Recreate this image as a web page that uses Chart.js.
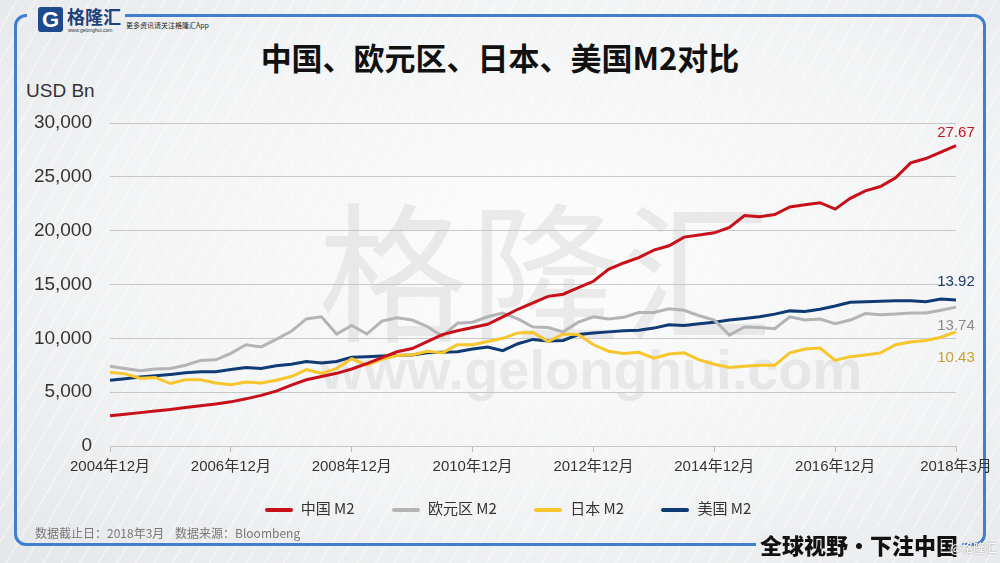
<!DOCTYPE html>
<html lang="zh">
<head>
<meta charset="UTF-8">
<title>中国、欧元区、日本、美国M2对比</title>
<script src="https://cdn.jsdelivr.net/npm/chart.js"></script>
<style>
  body { margin: 0; }
  .page {
    position: relative; width: 1000px; height: 563px; overflow: hidden;
    font-family: "Liberation Sans", Arial, "Noto Sans CJK SC", sans-serif;
    background:
      repeating-linear-gradient(120deg, rgba(255,255,255,0) 0 14px, rgba(255,255,255,0.35) 14px 16px),
      radial-gradient(ellipse at 55% 45%, #fcfcfc 0%, #f3f4f5 55%, #e4e6e9 100%);
  }
  .frame {
    position: absolute; left: 14px; top: 14px; width: 966px; height: 526px;
    border: 3px solid #3f7fcf; border-radius: 12px;
  }
  .patch { position: absolute; background: #eceef0; }
  .logo-box {
    position: absolute; left: 38px; top: 7px; width: 25px; height: 25px;
    background: #1d4a8c; border-radius: 3px; color: #fff;
    font: bold 22px/25px "Liberation Sans", Arial, sans-serif; text-align: center;
  }
  .logo-name {
    position: absolute; left: 67px; top: 5px; color: #1d3f7a;
    font: bold 18px/22px "Noto Sans CJK SC", sans-serif;
  }
  .logo-url { position: absolute; left: 68px; top: 27px; font: 5px/6px Arial, sans-serif; color: #333; }
  .logo-tip { position: absolute; left: 126px; top: 21px; font: 7px/9px "Noto Sans CJK SC", sans-serif; color: #222; }
  .title {
    position: absolute; left: 0; width: 1000px; top: 37px; text-align: center;
    font: bold 31px/40px "Noto Sans CJK SC", sans-serif; color: #111;
  }
  .unit { position: absolute; left: 26px; top: 80px; font-size: 19px; color: #333; }
  .wm1 {
    position: absolute; left: 318px; top: 170px; font: 150px/190px "Noto Sans CJK SC", sans-serif;
    color: rgba(120,120,120,0.13); letter-spacing: 2px;
  }
  .wm2 {
    position: absolute; left: 320px; top: 338px; font: bold 56px/64px "Liberation Sans", Arial, sans-serif;
    color: rgba(120,120,120,0.13);
  }
  canvas { position: absolute; left: 0; top: 0; }
  .legend {
    position: absolute; top: 497px; left: 8px; width: 1000px; text-align: center;
    font: 15px/22px "Noto Sans CJK SC", sans-serif; color: #333;
  }
  .legend span { margin: 0 17px; }
  .legend i { display: inline-block; width: 28px; height: 4px; border-radius: 2px; vertical-align: middle; margin-right: 8px; }
  .note { position: absolute; left: 35px; top: 525px; font: 12px/16px "Noto Sans CJK SC", sans-serif; color: #777; }
  .slogan {
    position: absolute; left: 756px; top: 530px; padding: 0 4px; background: #eceef0;
    font: 900 22px/28px "Noto Sans CJK SC", sans-serif; color: #111;
  }
  .at { position: absolute; left: 950px; top: 540px; font: 12px/16px "Noto Sans CJK SC", sans-serif; color: #fff; text-shadow: 0 0 2px #888; }
</style>
</head>
<body>
<div class="page">
  <div class="frame"></div>
  <div class="patch" style="left:27px;top:10px;width:98px;height:12px;"></div>
  <div class="logo-box">G</div>
  <div class="logo-name">格隆汇</div>
  <div class="logo-url">www.gelonghui.com</div>
  <div class="logo-tip">更多资讯请关注格隆汇App</div>
  <div class="title">中国、欧元区、日本、美国M2对比</div>
  <div class="unit">USD Bn</div>
  <div class="wm1">格隆汇</div>
  <div class="wm2">www.gelonghui.com</div>
  <canvas id="m2Chart" width="1000" height="563"></canvas>
  <div class="legend">
    <span><i style="background:#c8101a"></i>中国 M2</span>
    <span><i style="background:#b4b4b4"></i>欧元区 M2</span>
    <span><i style="background:#f7c52c"></i>日本 M2</span>
    <span><i style="background:#0f3a73"></i>美国 M2</span>
  </div>
  <div class="note">数据截止日：2018年3月&nbsp;&nbsp;&nbsp;&nbsp;数据来源：Bloombeng</div>
  <div class="slogan">全球视野・下注中国</div>
  <div class="at">@格隆汇</div>
</div>

<script>
  // 横轴刻度（每8个点一个）
  const tickLabels = ['2004年12月', '2006年12月', '2008年12月', '2010年12月',
    '2012年12月', '2014年12月', '2016年12月', '2018年3月'];

  const chinaM2 = [2800, 2950, 3100, 3250, 3400, 3570, 3730, 3900, 4100, 4380,
    4700, 5100, 5650, 6150, 6450, 6750, 7150, 7650, 8200, 8750,
    9050, 9700, 10350, 10700, 11000, 11300, 12000, 12700, 13300, 13900,
    14100, 14700, 15300, 16400, 17000, 17500, 18200, 18600, 19400, 19600,
    19800, 20300, 21400, 21300, 21500, 22200, 22400, 22600, 22000, 23000,
    23700, 24100, 24900, 26300, 26700, 27300, 27900];

  const euroM2 = [7400, 7200, 7000, 7150, 7200, 7500, 7950, 8000, 8600, 9400,
    9200, 9900, 10650, 11800, 12000, 10400, 11200, 10400, 11600, 11900,
    11700, 11100, 10200, 11400, 11500, 12000, 12350, 11800, 11050, 11000,
    10600, 11500, 12000, 11800, 11950, 12400, 12400, 12750, 12600, 12100,
    11700, 10300, 11050, 11000, 10900, 12000, 11700, 11800, 11350, 11700,
    12300, 12200, 12250, 12350, 12350, 12600, 12900];

  const japanM2 = [6850, 6700, 6300, 6350, 5800, 6150, 6150, 5850, 5700, 5950,
    5850, 6100, 6450, 7100, 6750, 7200, 8100, 7500, 8050, 8400,
    8450, 8800, 8650, 9400, 9400, 9700, 10000, 10500, 10550, 9700,
    10400, 10350, 9400, 8800, 8600, 8700, 8150, 8550, 8650, 8000,
    7600, 7300, 7400, 7500, 7500, 8650, 9000, 9100, 7950, 8300,
    8450, 8650, 9400, 9650, 9800, 10100, 10600];

  const usM2 = [6100, 6250, 6400, 6520, 6650, 6800, 6900, 6900, 7100, 7300,
    7200, 7450, 7600, 7850, 7700, 7850, 8250, 8300, 8350, 8400,
    8450, 8650, 8700, 8750, 9000, 9200, 8850, 9500, 9900, 9750,
    9800, 10350, 10500, 10600, 10700, 10750, 10950, 11250, 11200, 11350,
    11500, 11700, 11850, 12000, 12250, 12550, 12500, 12700, 13000, 13350,
    13400, 13450, 13500, 13500, 13400, 13650, 13550];

  const endLabels = ['27.67', '13.74', '10.43', '13.92'];

  var labels = [];
  for (var i = 0; i < chinaM2.length; i++) {
    labels.push(i % 8 === 0 ? tickLabels[i / 8] : '');
  }

  // 末端数值标注
  const endLabelPlugin = {
    id: 'endLabels',
    afterDatasetsDraw(chart) {
      const ctx = chart.ctx;
      const colors = ['#c0161c', '#8c8c8c', '#c9a232', '#1b3d6f'];
      const offsets = [-13, 19, 26, -18];
      ctx.save();
      ctx.font = '15px "Liberation Sans", Arial, sans-serif';
      ctx.textAlign = 'center';
      ctx.textBaseline = 'middle';
      chart.data.datasets.forEach(function (ds, d) {
        const pts = chart.getDatasetMeta(d).data;
        const p = pts[pts.length - 1];
        ctx.fillStyle = colors[d];
        ctx.fillText(endLabels[d], p.x, p.y + offsets[d]);
      });
      ctx.restore();
    }
  };

  const ctx = document.getElementById('m2Chart').getContext('2d');
  const m2Chart = new Chart(ctx, {
    type: 'line',
    data: {
      labels: labels,
      datasets: [
        { label: '中国 M2', data: chinaM2, borderColor: '#c8101a' },
        { label: '欧元区 M2', data: euroM2, borderColor: '#b4b4b4' },
        { label: '日本 M2', data: japanM2, borderColor: '#f7c52c' },
        { label: '美国 M2', data: usM2, borderColor: '#0f3a73' }
      ]
    },
    options: {
      responsive: false,
      animation: false,
      elements: {
        line: { borderWidth: 3, tension: 0 },
        point: { radius: 0 }
      },
      layout: { padding: { left: 30, top: 123, right: 44, bottom: 77 } },
      plugins: {
        legend: { display: false },
        tooltip: { enabled: false }
      },
      scales: {
        x: {
          afterFit: function (scale) { scale.height = 40; },
          grid: { drawOnChartArea: false, tickLength: 6, color: '#bdbdbd' },
          border: { color: '#c4c4c4' },
          ticks: {
            autoSkip: false, maxRotation: 0, padding: 6,
            color: '#333', font: { size: 15, family: '"Liberation Sans", Arial, "Noto Sans CJK SC"' },
            callback: function (val, idx) {
              return labels[idx] === '' ? null : labels[idx];
            }
          }
        },
        y: {
          min: 0, max: 30000,
          afterFit: function (scale) { scale.width = 80; },
          grid: { color: '#c8c8c8', drawTicks: false },
          border: { display: false },
          ticks: {
            stepSize: 5000, padding: 18, color: '#333',
            font: { size: 19, family: '"Liberation Sans", Arial' },
            callback: function (v) { return v.toLocaleString('en-US'); }
          }
        }
      }
    },
    plugins: [endLabelPlugin]
  });
</script>
</body>
</html>
